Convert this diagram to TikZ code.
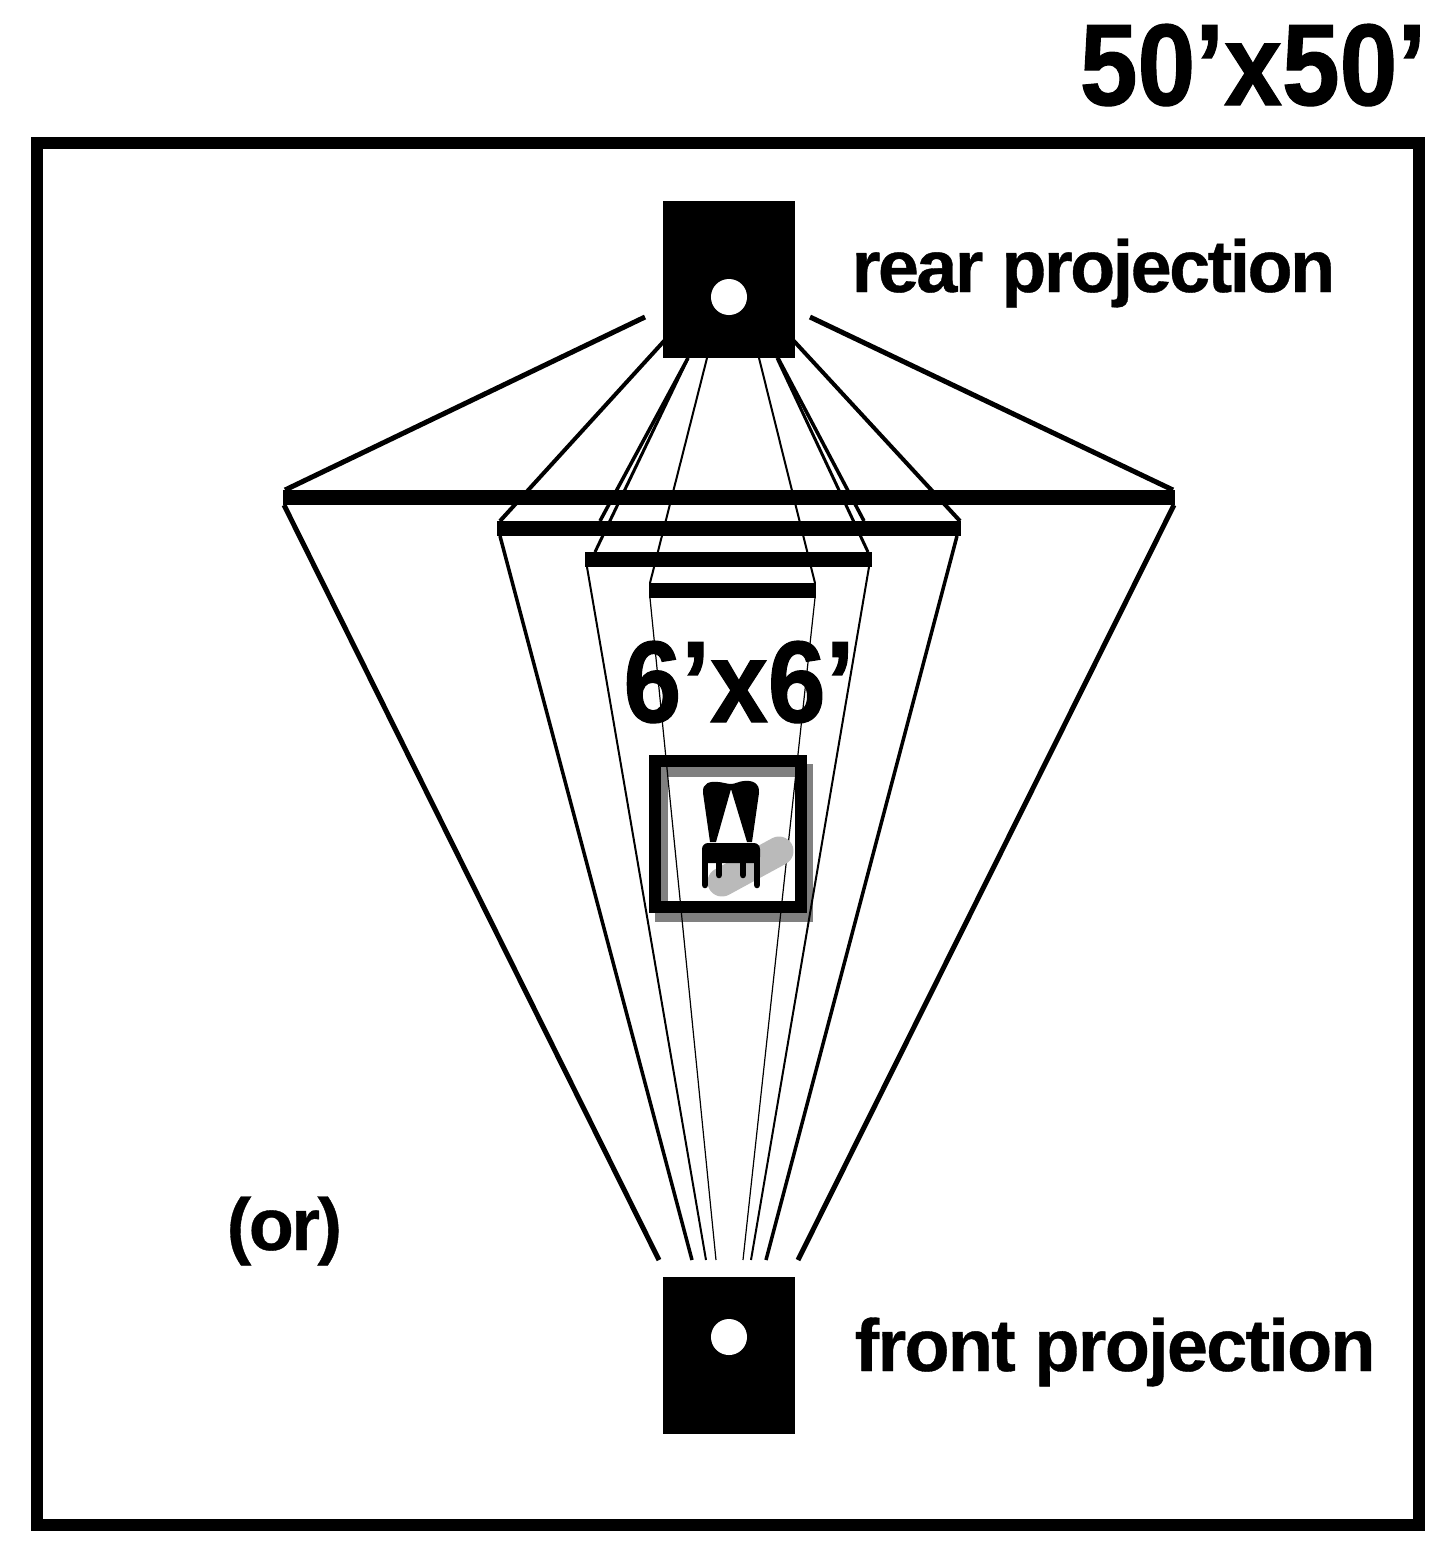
\documentclass[tikz,border=0pt]{standalone}
\usepackage{fontspec}
\newfontfamily\sizefont[FakeStretch=0.895,FakeBold=1]{Liberation Sans Bold}
\newfontfamily\labelfont[LetterSpace=-3.5,FakeBold=0.5]{Liberation Sans Bold}
\newfontfamily\widelabelfont[LetterSpace=-2.4,FakeBold=0.5]{Liberation Sans Bold}
\tikzset{
  block/.style={fill=black,inner sep=0pt,minimum width=1.32cm,minimum height=1.57cm},
  lens/.style={fill=white,circle,inner sep=0pt,minimum size=0.36cm},
  screen/.style={fill=black,inner sep=0pt,minimum height=0.15cm},
  sizetext/.style={font=\sizefont\fontsize{33}{33}\selectfont,inner sep=0pt},
  labeltext/.style={font=\labelfont\fontsize{21}{21}\selectfont,inner sep=0pt},
  widelabeltext/.style={font=\widelabelfont\fontsize{21}{21}\selectfont,inner sep=0pt}
}
\begin{document}
\begin{tikzpicture}[x=0.01cm,y=-0.01cm]
    \useasboundingbox (0,0) rectangle (1448,1541);
    % room
    \draw[line width=0.12cm] (37,143) rectangle (1419,1525);
    % shadow behind the chair frame
    \draw[line width=0.13cm,gray] (661.5,770.5) rectangle (806.5,915.5);
    % projectors
    \node[block] (rearbox) at (729,279.5) {};
    \node[block] (frontbox) at (729,1355.5) {};
    \node[lens] (rearlens) at (729,297) {};
    \node[lens] (frontlens) at (729,1337) {};
    % screens
    \node[screen,minimum width=8.92cm] (screenA) at (729,497.5) {};
    \node[screen,minimum width=4.64cm] (screenB) at (729,528.5) {};
    \node[screen,minimum width=2.87cm] (screenC) at (728.5,559.5) {};
    \node[screen,minimum width=1.67cm] (screenD) at (732.5,590.5) {};
    % rays from the rear
    \draw[line width=0.05cm] (645,317)--(285,490);
    \draw[line width=0.05cm] (810,317)--(1173,490);
    \draw[line width=0.04cm] (665,340)--(500,521);
    \draw[line width=0.04cm] (793,340)--(960,521);
    \draw[line width=0.035cm] (688,358)--(600,521);
    \draw[line width=0.035cm] (778,358)--(864,521);
    \draw[line width=0.03cm] (688,358)--(595,552);
    \draw[line width=0.03cm] (777,358)--(868,552);
    \draw[line width=0.02cm] (707,358)--(650,583);
    \draw[line width=0.02cm] (759,358)--(815,583);
    % rays to the front
    \draw[line width=0.05cm] (284,505)--(659,1260);
    \draw[line width=0.05cm] (1174,505)--(798,1260);
    \draw[line width=0.035cm] (500,536)--(692,1260);
    \draw[line width=0.035cm] (957,536)--(766,1260);
    \draw[line width=0.02cm] (587,567)--(706,1260);
    \draw[line width=0.02cm] (869,567)--(751,1260);
    \draw[line width=0.012cm] (650,598)--(716,1260);
    \draw[line width=0.012cm] (815,598)--(743,1260);
    % chair frame
    \draw[line width=0.12cm] (655,761) rectangle (801,907);
    % chair
    \draw[line width=0.29cm,color=black!27,line cap=round] (722,882)--(779,851);
    \fill (731,789)--(716,842)--(710,842)--(703,793)
      .. controls (702,783) and (710,781) .. (718,782)
      .. controls (722,782) and (727,784) .. (731,784)--cycle;
    \fill (731,789)--(747,842)--(752,842)--(759,793)
      .. controls (760,783) and (752,780) .. (744,781)
      .. controls (740,781) and (735,784) .. (731,784)--cycle;
    \fill[rounded corners=0.06cm] (702,843) rectangle (760,863);
    \draw[line width=0.065cm,line cap=round] (705,855)--(705,885);
    \draw[line width=0.065cm,line cap=round] (757,855)--(757,885);
    \draw[line width=0.065cm,line cap=round] (719,855)--(719,875);
    \draw[line width=0.065cm,line cap=round] (743,855)--(743,875);
    % labels
    \node[sizetext,anchor=base east] (roomsize) at (1427,105) {50’x50’};
    \node[sizetext,anchor=base] (screensize) at (739,722) {6’x6’};
    \node[labeltext,anchor=base west] (rearlabel) at (851,292) {rear projection};
    \node[widelabeltext,anchor=base west] (frontlabel) at (854,1371) {front projection};
    \node[labeltext,anchor=base west] (orlabel) at (226,1250) {(or)};
\end{tikzpicture}
\end{document}
